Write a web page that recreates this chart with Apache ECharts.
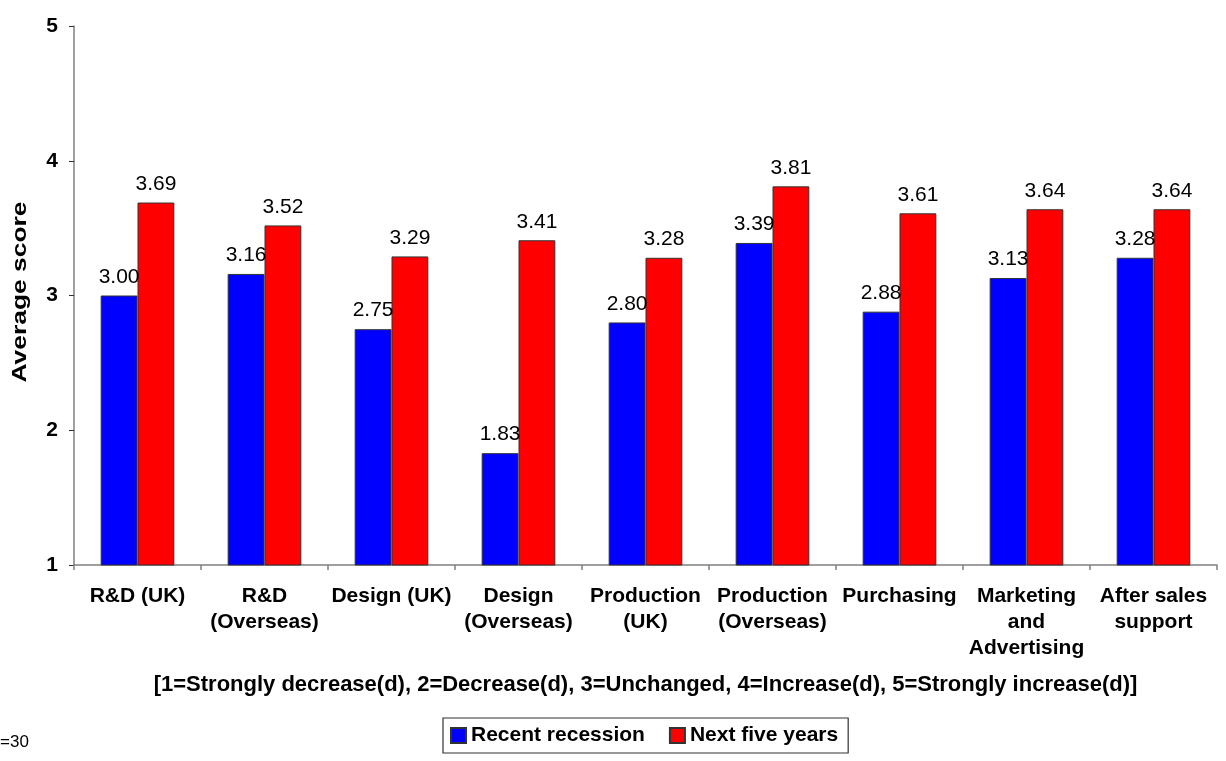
<!DOCTYPE html>
<html>
<head>
<meta charset="utf-8">
<title>Average score by business function</title>
<script src="https://cdn.jsdelivr.net/npm/echarts@6/dist/echarts.min.js"></script>
<style>
  html, body { margin: 0; padding: 0; background: #ffffff; }
  #chart { width: 1226px; height: 761px; }
</style>
</head>
<body>
<div id="chart"></div>
<script>
// Business functions (line breaks follow the axis label wrapping)
const categories = [
  'R&D (UK)',
  'R&D\n(Overseas)',
  'Design (UK)',
  'Design\n(Overseas)',
  'Production\n(UK)',
  'Production\n(Overseas)',
  'Purchasing',
  'Marketing\nand\nAdvertising',
  'After sales\nsupport'
];

// Average scores per period
const recentRecession = [3.00, 3.16, 2.75, 1.83, 2.80, 3.39, 2.88, 3.13, 3.28];
const nextFiveYears   = [3.69, 3.52, 3.29, 3.41, 3.28, 3.81, 3.61, 3.64, 3.64];

const seriesNames = ['Recent recession', 'Next five years'];
const yTitle = 'Average score';
const scaleNote = '[1=Strongly decrease(d), 2=Decrease(d), 3=Unchanged, 4=Increase(d), 5=Strongly increase(d)]';
const sampleNote = '=30';

const FONT = 'Liberation Sans, Arial, sans-serif';

const chart = echarts.init(document.getElementById('chart'), null, { renderer: 'canvas' });

const valueLabel = {
  show: true,
  position: 'top',
  distance: 8,
  color: '#000',
  fontFamily: FONT,
  fontSize: 21,
  formatter: p => p.value.toFixed(2)
};

chart.setOption({
  animation: false,
  backgroundColor: '#ffffff',
  textStyle: { fontFamily: FONT },
  grid: { left: 74, right: 9, top: 26, bottom: 196, containLabel: false },
  legend: {
    left: 443,
    top: 718,
    itemWidth: 15,
    itemHeight: 15,
    itemGap: 24,
    padding: [7, 10, 7, 7],
    borderColor: '#333',
    borderWidth: 1.2,
    icon: 'rect',
    textStyle: { fontFamily: FONT, fontSize: 21, fontWeight: 'bold', color: '#000' },
    data: seriesNames
  },
  xAxis: {
    type: 'category',
    data: categories,
    name: scaleNote,
    nameLocation: 'middle',
    nameGap: 109,
    nameTextStyle: { fontFamily: FONT, fontSize: 22, fontWeight: 'bold', color: '#000' },
    axisLine: { lineStyle: { color: '#808080', width: 1.5 } },
    axisTick: { show: true, length: 5, lineStyle: { color: '#808080', width: 1.5 } },
    axisLabel: {
      interval: 0,
      margin: 18,
      color: '#000',
      fontFamily: FONT,
      fontSize: 21,
      fontWeight: 'bold',
      lineHeight: 26
    }
  },
  yAxis: {
    type: 'value',
    min: 1,
    max: 5,
    interval: 1,
    splitLine: { show: false },
    axisLine: { show: true, lineStyle: { color: '#808080', width: 1.5 } },
    axisTick: { show: true, length: 5, lineStyle: { color: '#333', width: 1 } },
    axisLabel: {
      margin: 16,
      color: '#000',
      fontFamily: FONT,
      fontSize: 21,
      fontWeight: 'bold'
    }
  },
  series: [
    {
      name: seriesNames[0],
      type: 'bar',
      data: recentRecession,
      barGap: '0%',
      barCategoryGap: '42%',
      itemStyle: { color: '#0000ff', borderColor: '#333', borderWidth: 1 },
      label: valueLabel
    },
    {
      name: seriesNames[1],
      type: 'bar',
      data: nextFiveYears,
      barGap: '0%',
      barCategoryGap: '42%',
      itemStyle: { color: '#ff0000', borderColor: '#333', borderWidth: 1 },
      label: valueLabel
    }
  ],
  graphic: [
    {
      // vertical axis title, set in a wide bold face
      type: 'text',
      x: 20,
      y: 292,
      rotation: Math.PI / 2,
      scaleX: 1.32,
      style: {
        text: yTitle,
        fill: '#000',
        font: 'bold 20px ' + FONT,
        align: 'center',
        verticalAlign: 'middle'
      }
    },
    {
      type: 'text',
      x: 0,
      y: 742,
      style: { text: sampleNote, fill: '#000', font: '17px ' + FONT, verticalAlign: 'middle' }
    }
  ]
});
</script>
</body>
</html>
